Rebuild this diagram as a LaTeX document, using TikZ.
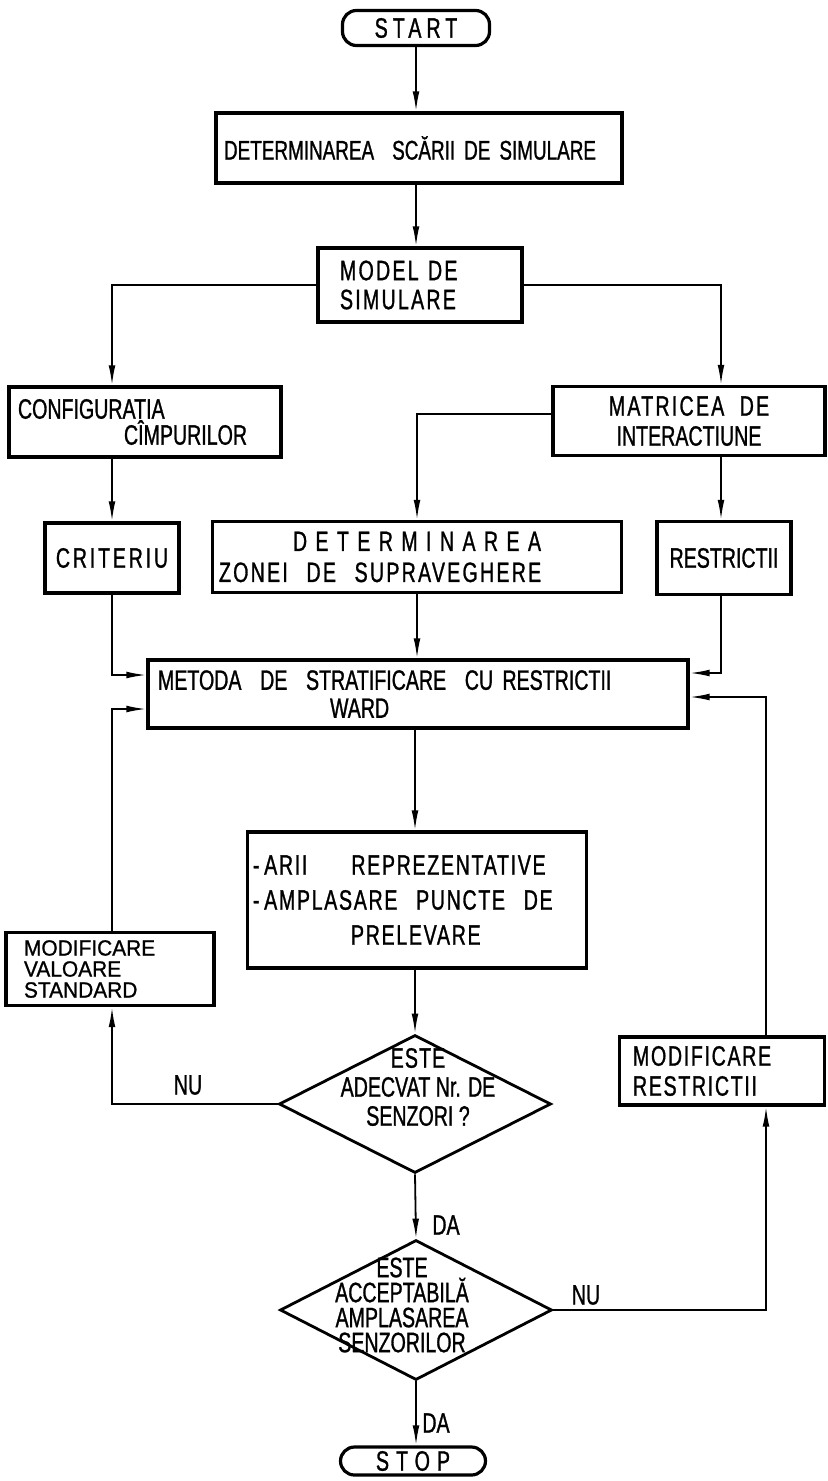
\documentclass[tikz,border=0pt]{standalone}
\usepackage{fontspec}
\newfontfamily\hand{Liberation Sans}[FakeStretch=0.7,FakeBold=1]
\newfontfamily\handw{Liberation Sans}[FakeStretch=0.95,FakeBold=1]
\usetikzlibrary{arrows.meta,shapes.geometric}
\begin{document}
\begin{tikzpicture}[x=0.5pt,y=-0.5pt,
  box/.style={draw, line width=1.6pt, inner sep=0pt, font={\hand\fontsize{14}{15}\selectfont}},
  term/.style={box, rounded corners=7pt},
  dec/.style={draw, diamond, line width=1.4pt, inner sep=0pt, minimum width=136pt},
  txt/.style={inner sep=0pt, align=center, font={\hand\fontsize{14}{14.5}\selectfont}},
  lbl/.style={inner sep=0pt, font={\hand\fontsize{14}{14}\selectfont}},
  arr/.style={line width=0.9pt, -{Latex[length=10pt,width=3.4pt]}},
]
\useasboundingbox (0,0) rectangle (827,1481);
\fill[white] (0,0) rectangle (827,1481);

\node[term, minimum width=73.5pt, minimum height=17.5pt] (start) at (416,28) {{\addfontfeatures{LetterSpace=18}START}};
\node[box, minimum width=203pt, minimum height=35pt, text width=195pt, align=left, font={\hand\fontsize{13.5}{15}\selectfont}] (scarii) at (419,148) {DETERMINAREA\ \ SCĂRII DE SIMULARE};
\node[box, minimum width=102pt, minimum height=37pt, text width=80pt, align=left, font={\hand\fontsize{14}{14.5}\selectfont}] (model) at (420,285) {\addfontfeatures{LetterSpace=8}MODEL DE\\SIMULARE};
\node[box, minimum width=136pt, minimum height=35pt, text width=127pt, align=left, font={\hand\fontsize{14}{13}\selectfont}] (config) at (145,422) {CONFIGURATIA\\\hspace*{53pt}CÎMPURILOR};
\node[box, minimum width=136pt, minimum height=34.5pt, align=center] (matr) at (689,421) {\addfontfeatures{LetterSpace=8}MATRICEA\ \ DE\\INTERACTIUNE};
\node[box, minimum width=67pt, minimum height=35pt] (crit) at (112,558) {{\addfontfeatures{LetterSpace=10}CRITERIU}};
\node[box, minimum width=204.5pt, minimum height=35.5pt, text width=198pt, align=left, font={\hand\fontsize{14}{15.5}\selectfont}] (zonei) at (417,557) {\makebox[198pt]{\addfontfeatures{LetterSpace=30}DETERMINAREA}\\{\addfontfeatures{LetterSpace=8}ZONEI\ \ DE\ \ SUPRAVEGHERE}};
\node[box, minimum width=67pt, minimum height=36.5pt] (restr) at (724,558) {RESTRICTII};
\node[box, minimum width=270pt, minimum height=34pt, text width=260pt, align=left, font={\hand\fontsize{14}{14}\selectfont}] (metoda) at (418,694) {METODA\ \ DE\ \ STRATIFICARE\ \ CU RESTRICTII\\\hspace*{86pt}WARD};
\node[box, minimum width=169.5pt, minimum height=68pt, text width=164pt, align=left, font={\hand\fontsize{14}{17.5}\selectfont}] (arii) at (417,900) {\addfontfeatures{LetterSpace=6}-\,ARII\hspace{22pt}REPREZENTATIVE\\-\,AMPLASARE\ \ PUNCTE\ \ DE\\\hspace*{49pt}PRELEVARE};
\node[box, minimum width=104pt, minimum height=36.5pt, text width=86pt, align=left, font={\handw\fontsize{11}{10.5}\selectfont}] (modval) at (110,969) {MODIFICARE\\VALOARE\\STANDARD};
\node[box, minimum width=102.5pt, minimum height=34pt, text width=89pt, align=left] (modres) at (722,1071) {\addfontfeatures{LetterSpace=6}MODIFICARE\\RESTRICTII};

\node[dec, minimum height=69pt] (d1) at (415,1104) {};
\node[txt] (d1t) at (418,1087) {\addfontfeatures{LetterSpace=4}ESTE\\ADECVAT Nr. DE\\SENZORI ?};
\node[dec, minimum height=70pt] (d2) at (416,1310) {};
\node[txt, font={\hand\fontsize{14}{12.5}\selectfont}] (d2t) at (402,1305) {ESTE\\ACCEPTABILĂ\\AMPLASAREA\\SENZORILOR};

\node[term, minimum width=72.5pt, minimum height=14pt] (stop) at (413,1461) {{\addfontfeatures{LetterSpace=25}STOP}};

\node[lbl] (nu1) at (188,1085) {NU};
\node[lbl] (da1) at (446,1225) {DA};
\node[lbl] (nu2) at (586,1295) {NU};
\node[lbl] (da2) at (436,1423) {DA};

\coordinate (xL) at (112,0);
\coordinate (xR) at (721,0);
\coordinate (xRR) at (766,0);
\coordinate (yMt) at (0,414);
\coordinate (yA) at (0,675);
\coordinate (yB) at (0,709);
\coordinate (yC) at (0,673);
\coordinate (yD) at (0,697);

\draw[arr] (start.south) -- (start.south |- scarii.north);
\draw[arr] (scarii.south -| start.south) -- (start.south |- model.north);
\draw[arr] (model.west) -| (config.north -| xL);
\draw[arr] (model.east) -| (matr.north -| xR);
\draw[arr] (matr.west |- yMt) -| (zonei.north);
\draw[arr] (config.south -| xL) -- (crit.north -| xL);
\draw[arr] (matr.south -| xR) -- (restr.north -| xR);
\draw[arr] (crit.south -| xL) |- (metoda.west |- yA);
\draw[arr] (zonei.south) -- (zonei.south |- metoda.north);
\draw[arr] (restr.south -| xR) |- (metoda.east |- yC);
\draw[arr] (metoda.south -| d1.north) -- (arii.north -| d1.north);
\draw[arr] (arii.south -| d1.north) -- (d1.north);
\draw[arr] (d1.west) -| (modval.south -| xL);
\draw[arr] (modval.north -| xL) |- (metoda.west |- yB);
\draw[arr] (d1.south) -- (d2.north);
\draw[arr] (d2.east) -| (modres.south -| xRR);
\draw[arr] (modres.north -| xRR) |- (metoda.east |- yD);
\draw[arr] (d2.south) -- (d2.south |- stop.north);
\end{tikzpicture}
\end{document}
